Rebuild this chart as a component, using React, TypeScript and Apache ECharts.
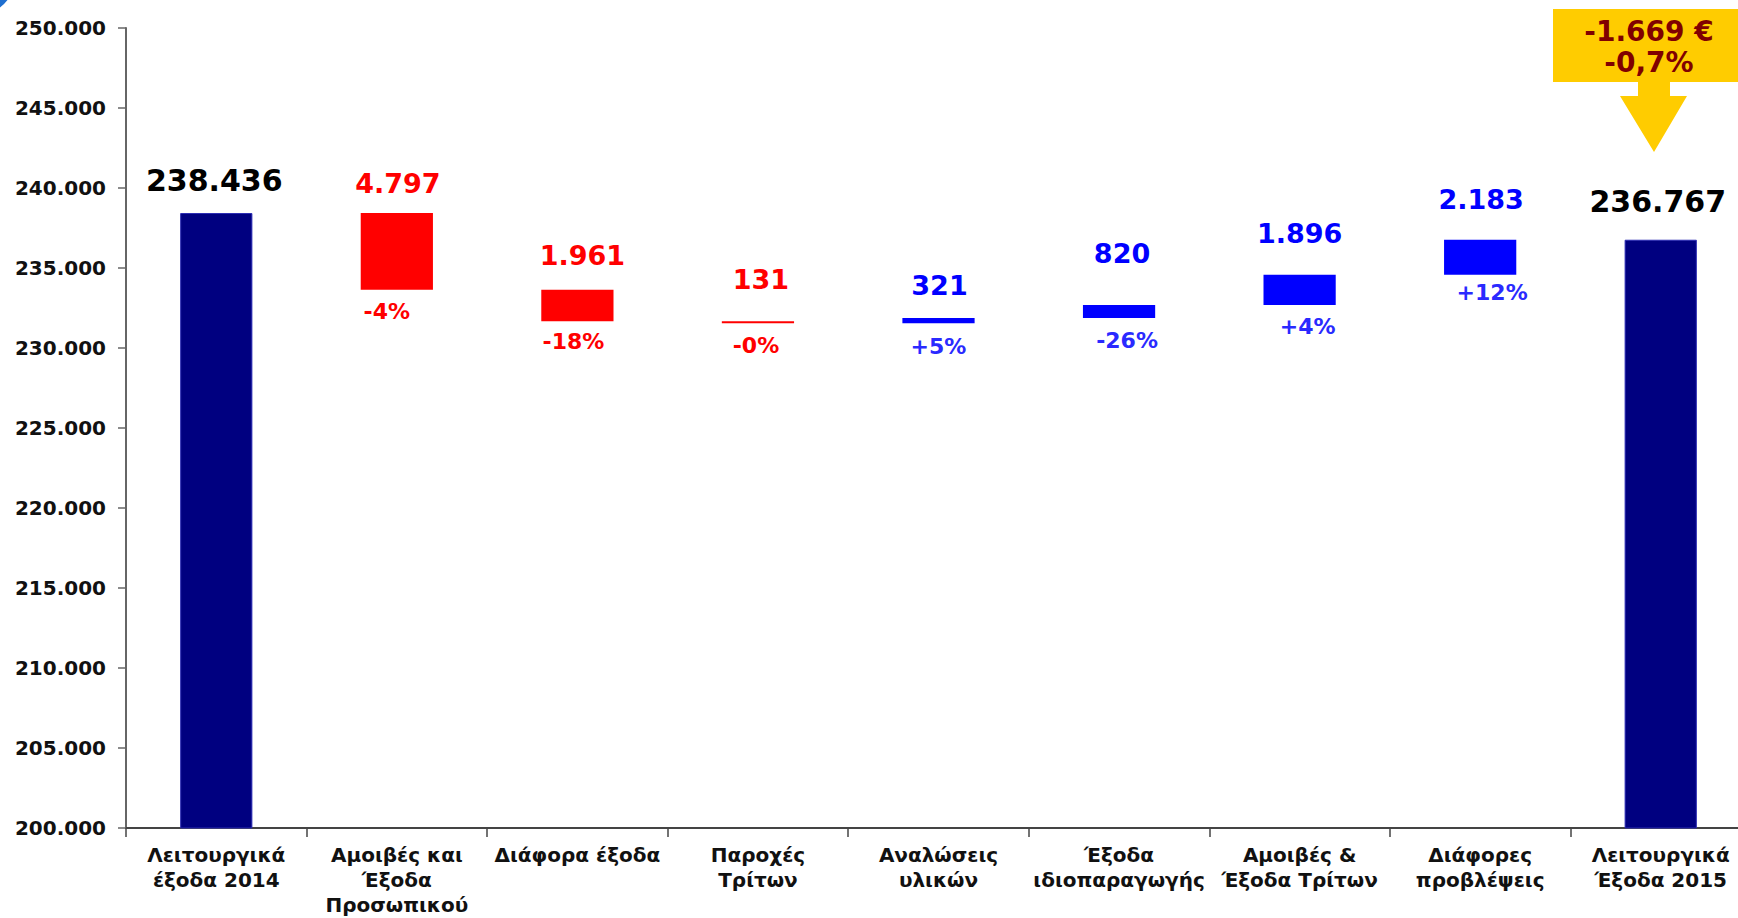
import React, { useEffect, useRef } from 'react';
import * as echarts from 'echarts';

// ---- data ----
const categories = [
  'Λειτουργικά\nέξοδα 2014',
  'Αμοιβές και\nΈξοδα\nΠροσωπικού',
  'Διάφορα έξοδα',
  'Παροχές\nΤρίτων',
  'Αναλώσεις\nυλικών',
  'Έξοδα\nιδιοπαραγωγής',
  'Αμοιβές &\nΈξοδα Τρίτων',
  'Διάφορες\nπροβλέψεις',
  'Λειτουργικά\nΈξοδα 2015',
];
const startTotal = 238436;
const endTotal = 236767;
const changes = [-4797, -1961, -131, 321, 820, 1896, 2183];
const changePct = ['-4%', '-18%', '-0%', '+5%', '-26%', '+4%', '+12%'];
const yMin = 200000;
const yMax = 250000;
const yStep = 5000;
const calloutLines = ['-1.669 €', '-0,7%'];

// ---- label nudges (style only) ----
const valueLabelGap = [33, 30, 34, 42, 33, 51, 41, 40, 38];
const valueLabelDx = [-2, 1, 5, 3, 1, 3, 0, 1, -3];
const pctLabelGap = [22, 20, 22, 23, 22, 22, 18];
const pctLabelDx = [-10, -4, -2, 0, 8, 8, 12];

const FONT = '"DejaVu Sans", Verdana, sans-serif';
const NAVY = '#000080';
const RED = '#FF0000';
const BLUE = '#0000FF';

const fmt = (n: number) => Math.abs(n).toString().replace(/\B(?=(\d{3})+(?!\d))/g, '.');

function buildOption() {
  const base: number[] = [0];
  const delta: number[] = [startTotal];
  let running = startTotal;
  changes.forEach((c) => {
    const next = running + c;
    base.push(Math.min(running, next));
    delta.push(Math.abs(c));
    running = next;
  });
  base.push(0);
  delta.push(endTotal);
  const amounts = [startTotal, ...changes, endTotal];
  const last = categories.length - 1;

  const baseData = base.map((v, i) => {
    const isChange = i > 0 && i < last;
    const ci = i - 1;
    const col = isChange ? (changes[ci] < 0 ? RED : '#2a2aff') : '#000';
    return {
      value: v,
      label: isChange
        ? {
            show: true,
            position: 'insideTop',
            distance: pctLabelGap[ci] - 11,
            offset: [pctLabelDx[ci], 0],
            color: col,
            fontSize: 22,
            lineHeight: 22,
            fontWeight: 'bold',
            fontFamily: FONT,
            formatter: changePct[ci],
          }
        : { show: false },
    };
  });

  const deltaData = delta.map((v, i) => {
    const isTotal = i === 0 || i === last;
    const col = isTotal ? NAVY : changes[i - 1] < 0 ? RED : BLUE;
    const lcol = isTotal ? '#000' : col;
    const fs = isTotal ? 30 : 27;
    return {
      value: v,
      itemStyle: isTotal ? { color: col, borderColor: '#2c2cb4', borderWidth: 1 } : { color: col },
      label: {
        show: true,
        position: 'top',
        distance: valueLabelGap[i] - fs / 2,
        offset: [valueLabelDx[i], 0],
        color: lcol,
        fontSize: fs,
        lineHeight: fs,
        fontWeight: 'bold',
        fontFamily: FONT,
        formatter: fmt(amounts[i]),
      },
    };
  });

  return {
    animation: false,
    backgroundColor: '#ffffff',
    grid: { left: 126, top: 28, width: 1625, height: 800, containLabel: false },
    xAxis: {
      type: 'category',
      data: categories,
      axisLine: { show: true, lineStyle: { color: '#444', width: 2 } },
      axisTick: { show: true, length: 9, alignWithLabel: false, lineStyle: { color: '#444', width: 1.5 } },
      axisLabel: {
        interval: 0,
        fontSize: 20,
        lineHeight: 25,
        fontWeight: 'bold',
        color: '#111',
        fontFamily: FONT,
        margin: 14,
      },
      splitLine: { show: false },
    },
    yAxis: {
      type: 'value',
      min: yMin,
      max: yMax,
      interval: yStep,
      axisLine: { show: true, lineStyle: { color: '#666', width: 2 } },
      axisTick: { show: true, length: 8, lineStyle: { color: '#666', width: 1.5 } },
      splitLine: { show: false },
      axisLabel: {
        fontSize: 20,
        fontWeight: 'bold',
        color: '#111',
        fontFamily: FONT,
        margin: 20,
        formatter: (v: number) => fmt(v),
      },
    },
    series: [
      {
        type: 'bar',
        stack: 'wf',
        barWidth: '40%',
        clip: true,
        itemStyle: { color: 'rgba(0,0,0,0)' },
        emphasis: { disabled: true },
        data: baseData,
      },
      {
        type: 'bar',
        stack: 'wf',
        barWidth: '40%',
        clip: true,
        emphasis: { disabled: true },
        data: deltaData,
      },
    ],
    graphic: [
      {
        type: 'circle',
        shape: { cx: -25, cy: -25, r: 38 },
        style: { fill: 'none', stroke: '#1f6fd0', lineWidth: 6 },
        silent: true,
      },
      {
        type: 'polygon',
        shape: {
          points: [
            [1553, 9], [1740, 9], [1740, 82], [1670, 82], [1670, 96], [1687, 96],
            [1654, 152], [1620, 96], [1638, 96], [1638, 82], [1553, 82],
          ],
        },
        style: { fill: '#FFCC00' },
        silent: true,
      },
      ...calloutLines.map((t, i) => ({
        type: 'text',
        x: 1649,
        y: 31 + i * 31,
        style: {
          text: t,
          fill: '#800000',
          font: `bold 28px ${FONT}`,
          align: 'center',
          verticalAlign: 'middle',
          textAlign: 'center',
          textVerticalAlign: 'middle',
        },
        silent: true,
      })),
    ],
  };
}

export default function App() {
  const ref = useRef<HTMLDivElement>(null);
  useEffect(() => {
    if (!ref.current) return;
    const chart = echarts.init(ref.current, null, { renderer: 'svg' });
    chart.setOption(buildOption() as any);
    return () => chart.dispose();
  }, []);
  return (
    <div
      style={{
        position: 'fixed',
        left: 0,
        top: 0,
        width: 1738,
        height: 918,
        overflow: 'hidden',
        background: '#fff',
      }}
    >
      <div ref={ref} style={{ width: 1770, height: 918 }} />
    </div>
  );
}
